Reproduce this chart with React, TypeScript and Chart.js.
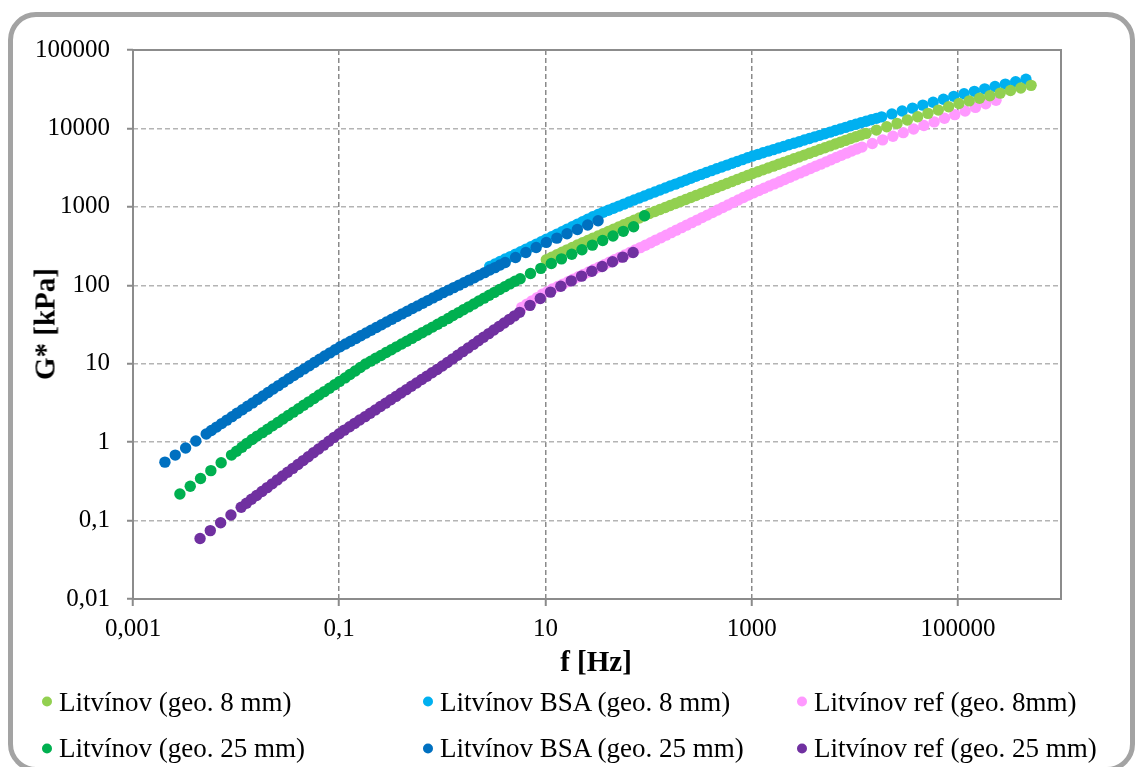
import React, { useEffect, useRef } from "react";
import { Chart, registerables } from "chart.js";

Chart.register(...registerables);

// Frequency sweeps [Hz] and complex modulus G* [kPa]; each sample has a main sweep and a second, overlapping sweep
const freqLitv8 = [10.2, 12.9, 16.2, 20.4, 25.7, 32.4, 40.7, 51.3, 64.6, 81.3, 102, 129, 162, 204, 257, 324, 407, 513, 646, 813, 1023, 1288, 1622, 2042, 2570, 3236, 4074, 5129, 6457, 8128, 10230, 12880, 16220, 20420, 25700, 32360, 40740, 51290, 64570, 81280, 102300, 128800, 162200, 204200, 257000, 323600, 407400, 512900];
const gLitv8 = [211.8, 244.9, 283.1, 325.8, 372.4, 424.6, 485.3, 553.4, 632.4, 721.1, 822.2, 924.7, 1040, 1169, 1315, 1479, 1663, 1871, 2104, 2366, 2661, 2965, 3304, 3681, 4102, 4571, 5093, 5675, 6324, 7047, 7834, 8650, 9528, 10520, 11590, 12790, 14090, 15560, 17140, 18920, 20800, 22440, 24210, 26120, 28180, 30410, 32810, 35400];
const freqLitv8Run2 = [11.5, 14.5, 18.2, 22.9, 28.8, 36.3, 45.7, 57.5, 72.4, 91.2, 115, 145, 182, 229, 288, 363, 457, 575, 724, 912, 1148, 1445, 1820, 2291, 2884, 3631, 4571, 5754, 7244, 9120, 11480];
const gLitv8Run2 = [227.8, 263.4, 303.7, 348.3, 397.7, 453.9, 518.2, 591.6, 675.3, 770.0, 871.8, 980.6, 1103, 1240, 1395, 1569, 1764, 1984, 2231, 2509, 2809, 3130, 3487, 3886, 4331, 4826, 5377, 5992, 6676, 7430, 8232];

const freqBsa8 = [2.88, 3.63, 4.57, 5.75, 7.24, 9.12, 11.5, 14.5, 18.2, 22.9, 28.8, 36.3, 45.7, 57.5, 72.4, 91.2, 115, 145, 182, 229, 288, 363, 457, 575, 724, 912, 1148, 1445, 1820, 2291, 2884, 3631, 4571, 5754, 7244, 9120, 11480, 14450, 18200, 22910, 28840, 36310, 45710, 57540, 72440, 91200, 114800, 144500, 182000, 229100, 288400, 363100, 457100];
const gBsa8 = [174, 201, 232, 268, 310, 359, 415, 481, 557, 646, 748, 853, 962, 1084, 1222, 1377, 1549, 1738, 1950, 2188, 2455, 2742, 3055, 3404, 3793, 4227, 4667, 5129, 5623, 6180, 6776, 7447, 8166, 8974, 9840, 10810, 11800, 12880, 14030, 15310, 16670, 18160, 19820, 21580, 23550, 25650, 27670, 29720, 31920, 34200, 36730, 39450, 42360];
const freqBsa8Run2 = [3.24, 4.07, 5.13, 6.46, 8.13, 10.2, 12.9, 16.2, 20.4, 25.7, 32.4, 40.7, 51.3, 64.6, 81.3, 102, 129, 162, 204, 257, 324, 407, 513, 646, 813, 1023, 1288, 1622, 2042, 2570, 3236, 4074, 5129, 6457, 8128, 10230, 12880, 16220];
const gBsa8Run2 = [186.8, 216.0, 249.7, 288.7, 333.9, 385.9, 446.7, 517.6, 599.8, 695.0, 798.8, 905.7, 1021, 1151, 1297, 1460, 1641, 1841, 2065, 2317, 2594, 2894, 3225, 3594, 4004, 4442, 4893, 5370, 5895, 6471, 7105, 7798, 8560, 9397, 10320, 11300, 12330, 13450];

const freqRef8 = [5.89, 7.41, 9.33, 11.7, 14.8, 18.6, 23.4, 29.5, 37.2, 46.8, 58.9, 74.1, 93.3, 117, 148, 186, 234, 295, 372, 468, 589, 741, 933, 1175, 1479, 1862, 2344, 2951, 3715, 4677, 5888, 7413, 9333, 11750, 14790, 18620, 23440, 29510, 37150, 46770, 58880, 74130, 93330, 117500, 147900, 186200, 234400];
const gRef8 = [52.24, 63.24, 76.74, 89.74, 103.5, 119.4, 137.7, 158.9, 183.2, 211.3, 243.8, 281.2, 324.3, 375.8, 435.5, 504.7, 584.8, 677.5, 785.2, 909.9, 1054, 1222, 1416, 1618, 1841, 2094, 2382, 2710, 3083, 3508, 3990, 4539, 5164, 5781, 6427, 7145, 7943, 8831, 9817, 10910, 12130, 13490, 15000, 16670, 18540, 20610, 22910];
const freqRef8Run2 = [6.61, 8.32, 10.5, 13.2, 16.6, 20.9, 26.3, 33.1, 41.7, 52.5, 66.1, 83.2, 105, 132, 166, 209, 263, 331, 417, 525, 661, 832, 1047, 1318, 1660, 2089, 2630, 3311, 4169, 5248, 6607, 8318, 10470];
const gRef8Run2 = [57.48, 69.66, 82.99, 96.38, 111.2, 128.2, 147.9, 170.6, 196.8, 227.0, 261.8, 302.0, 349.1, 404.6, 468.8, 543.3, 629.5, 729.8, 845.3, 979.5, 1135, 1315, 1514, 1726, 1963, 2234, 2541, 2891, 3289, 3741, 4256, 4842, 5465];

const freqLitv25 = [0.00285, 0.00359, 0.00452, 0.00569, 0.00716, 0.00902, 0.0114, 0.0143, 0.018, 0.0226, 0.0285, 0.0359, 0.0452, 0.0569, 0.0716, 0.0902, 0.114, 0.143, 0.18, 0.226, 0.285, 0.359, 0.452, 0.569, 0.716, 0.902, 1.14, 1.43, 1.8, 2.26, 2.85, 3.59, 4.52, 5.69, 7.16, 9.02, 11.4, 14.3, 18.0, 22.6, 28.5, 35.9, 45.2, 56.9, 71.6, 91.4];
const gLitv25 = [0.218, 0.274, 0.344, 0.433, 0.545, 0.684, 0.861, 1.081, 1.321, 1.614, 1.972, 2.415, 2.951, 3.606, 4.406, 5.383, 6.592, 8.072, 9.908, 11.72, 13.87, 16.41, 19.36, 22.86, 26.98, 31.84, 37.76, 44.77, 53.09, 62.95, 74.64, 88.51, 104.2, 121.3, 141.3, 164.4, 189.7, 217.3, 248.3, 284.4, 325.1, 372.4, 425.6, 487.5, 557.2, 770.9];
const freqLitv25Run2 = [0.0101, 0.0127, 0.016, 0.0202, 0.0254, 0.032, 0.0403, 0.0507, 0.0638, 0.0804, 0.101, 0.127, 0.16, 0.202, 0.254, 0.32, 0.403, 0.507, 0.638, 0.804, 1.01, 1.27, 1.6, 2.02, 2.54, 3.2, 4.03, 5.07];
const gLitv25Run2 = [0.767, 0.965, 1.195, 1.46, 1.784, 2.183, 2.67, 3.263, 3.986, 4.869, 5.957, 7.295, 8.944, 10.78, 12.75, 15.09, 17.82, 21.04, 24.83, 29.31, 34.67, 41.11, 48.75, 57.81, 68.55, 81.28, 96.05, 112.5];

const freqBsa25 = [0.00204, 0.00257, 0.00324, 0.00407, 0.00513, 0.00646, 0.00813, 0.0102, 0.0129, 0.0162, 0.0204, 0.0257, 0.0324, 0.0407, 0.0513, 0.0646, 0.0813, 0.102, 0.129, 0.162, 0.204, 0.257, 0.324, 0.407, 0.513, 0.646, 0.813, 1.02, 1.29, 1.62, 2.04, 2.57, 3.24, 4.07, 5.13, 6.46, 8.13, 10.2, 12.9, 16.2, 20.4, 25.7, 32.4];
const gBsa25 = [0.556, 0.684, 0.841, 1.035, 1.271, 1.556, 1.91, 2.339, 2.864, 3.508, 4.295, 5.26, 6.43, 7.8, 9.44, 11.43, 13.74, 16.48, 19.36, 22.75, 26.73, 31.4, 36.9, 43.2, 50.5, 59.0, 69.0, 80.5, 93.3, 108, 125, 145, 168, 195, 226, 262, 303, 352, 399, 454, 515, 586, 665];
const freqBsa25Run2 = [0.00575, 0.00724, 0.00912, 0.0115, 0.0145, 0.0182, 0.0229, 0.0288, 0.0363, 0.0457, 0.0575, 0.0724, 0.0912, 0.115, 0.145, 0.182, 0.229, 0.288, 0.363, 0.457, 0.575, 0.724, 0.912, 1.15, 1.45, 1.82, 2.29, 2.88, 3.63];
const gBsa25Run2 = [1.406, 1.724, 2.113, 2.588, 3.17, 3.882, 4.753, 5.814, 7.079, 8.582, 10.39, 12.53, 15.05, 17.86, 20.99, 24.66, 28.97, 34.04, 39.9, 46.67, 54.58, 63.83, 74.56, 86.7, 100.5, 116.4, 134.9, 156.3, 181.1];

const freqRef25 = [0.00447, 0.00562, 0.00708, 0.00891, 0.0112, 0.0141, 0.0178, 0.0224, 0.0282, 0.0355, 0.0447, 0.0562, 0.0708, 0.0891, 0.112, 0.141, 0.178, 0.224, 0.282, 0.355, 0.447, 0.562, 0.708, 0.891, 1.12, 1.41, 1.78, 2.24, 2.82, 3.55, 4.47, 5.62, 7.08, 8.91, 11.2, 14.1, 17.8, 22.4, 28.2, 35.5, 44.7, 56.2, 70.8];
const gRef25 = [0.0592, 0.0745, 0.0938, 0.118, 0.148, 0.187, 0.235, 0.294, 0.37, 0.463, 0.582, 0.731, 0.916, 1.151, 1.422, 1.734, 2.113, 2.576, 3.141, 3.828, 4.667, 5.689, 6.934, 8.453, 10.38, 12.82, 15.85, 19.59, 24.21, 29.85, 36.73, 45.19, 55.46, 67.76, 81.85, 97.27, 113.8, 130.9, 151.0, 173.8, 199.5, 228.6, 262.4];
const freqRef25Run2 = [0.0126, 0.0158, 0.02, 0.0251, 0.0316, 0.0398, 0.0501, 0.0631, 0.0794, 0.1, 0.126, 0.158, 0.2, 0.251, 0.316, 0.398, 0.501, 0.631, 0.794, 1.0, 1.26, 1.58, 2.0, 2.51, 3.16, 3.98, 5.01];
const gRef25Run2 = [0.166, 0.209, 0.263, 0.33, 0.414, 0.519, 0.652, 0.818, 1.027, 1.279, 1.57, 1.914, 2.333, 2.844, 3.467, 4.227, 5.152, 6.281, 7.656, 9.365, 11.53, 14.26, 17.62, 21.78, 26.89, 33.11, 40.74];

// Axis ticks
const xTicks = [0.001, 0.1, 10, 1000, 100000];
const yTicks = [0.01, 0.1, 1, 10, 100, 1000, 10000, 100000];

const seriesNames = [
  "Litvínov (geo. 8 mm)",
  "Litvínov BSA (geo. 8 mm)",
  "Litvínov ref (geo. 8mm)",
  "Litvínov (geo. 25 mm)",
  "Litvínov BSA (geo. 25 mm)",
  "Litvínov ref (geo. 25 mm)",
];
const seriesColors = ["#92D050", "#00B0F0", "#FF99FF", "#00B050", "#0070C0", "#7030A0"];
const seriesFreqs = [
  [...freqLitv8, ...freqLitv8Run2],
  [...freqBsa8, ...freqBsa8Run2],
  [...freqRef8, ...freqRef8Run2],
  [...freqLitv25, ...freqLitv25Run2],
  [...freqBsa25, ...freqBsa25Run2],
  [...freqRef25, ...freqRef25Run2],
];
const seriesG = [
  [...gLitv8, ...gLitv8Run2],
  [...gBsa8, ...gBsa8Run2],
  [...gRef8, ...gRef8Run2],
  [...gLitv25, ...gLitv25Run2],
  [...gBsa25, ...gBsa25Run2],
  [...gRef25, ...gRef25Run2],
];

const SERIF = "'Liberation Serif', 'Times New Roman', Times, serif";

const fmt = (v: number) => String(v).replace(".", ",");

const plotFrame = {
  id: "plotFrame",
  afterDraw(chart: any) {
    const { ctx, chartArea } = chart;
    ctx.save();
    ctx.strokeStyle = "#8c8c8c";
    ctx.lineWidth = 2;
    ctx.setLineDash([]);
    ctx.strokeRect(chartArea.left, chartArea.top, chartArea.right - chartArea.left, chartArea.bottom - chartArea.top);
    ctx.restore();
  },
};

export default function App() {
  const canvasRef = useRef<HTMLCanvasElement | null>(null);

  useEffect(() => {
    const canvas = canvasRef.current;
    if (!canvas) return;
    const datasets = seriesNames.map((name, i) => ({
      label: name,
      data: seriesFreqs[i].map((f, j) => ({ x: f, y: seriesG[i][j] })),
      backgroundColor: seriesColors[i],
      borderColor: seriesColors[i],
      borderWidth: 0,
      pointRadius: 5.7,
      pointStyle: "circle",
      showLine: false,
      order: i < 3 ? 1 : 0,
    }));
    const chart = new Chart(canvas, {
      type: "scatter",
      data: { datasets },
      plugins: [plotFrame],
      options: {
        animation: false,
        responsive: false,
        devicePixelRatio: 1,
        layout: { padding: { left: 0, top: 50, right: 74, bottom: 108 } },
        plugins: { legend: { display: false }, tooltip: { enabled: false } },
        scales: {
          x: {
            type: "logarithmic",
            position: "bottom",
            min: 0.001,
            max: 1000000,
            afterBuildTicks: (scale: any) => {
              scale.ticks = xTicks.map((v) => ({ value: v }));
            },
            afterFit: (scale: any) => {
              scale.height = 60;
            },
            ticks: {
              callback: (v: any) => fmt(Number(v)),
              color: "#000",
              font: { family: SERIF, size: 25 },
              padding: 8,
              maxRotation: 0,
              autoSkip: false,
            },
            grid: {
              color: "#8a8a8a",
              lineWidth: 1.5,
              borderDash: [5, 3],
              tickLength: 7,
              tickColor: "#8a8a8a",
              tickWidth: 2,
              tickBorderDash: [],
            },
            border: { display: false, dash: [5, 3] },
          },
          y: {
            type: "logarithmic",
            position: "left",
            min: 0.01,
            max: 100000,
            afterBuildTicks: (scale: any) => {
              scale.ticks = yTicks.map((v) => ({ value: v }));
            },
            afterFit: (scale: any) => {
              scale.width = 133;
            },
            ticks: {
              callback: (v: any) => fmt(Number(v)),
              color: "#000",
              font: { family: SERIF, size: 25 },
              padding: 17,
              autoSkip: false,
            },
            grid: {
              color: "#b4b4b4",
              lineWidth: 1.5,
              borderDash: [5, 3],
              tickLength: 6,
              tickColor: "#8a8a8a",
              tickWidth: 2,
              tickBorderDash: [],
            },
            border: { display: false, dash: [5, 3] },
          },
        },
      } as any,
    });
    return () => chart.destroy();
  }, []);

  const legendCols = [47, 428, 802];
  const legendRows = [701.5, 748];

  return (
    <div
      style={{
        position: "absolute",
        left: 0,
        top: 0,
        width: 1135,
        height: 767,
        overflow: "hidden",
        background: "#fff",
        fontFamily: SERIF,
      }}
    >
      <div
        style={{
          position: "absolute",
          left: 8,
          top: 12,
          width: 1127,
          height: 760,
          boxSizing: "border-box",
          border: "5px solid #a3a3a3",
          borderRadius: 28,
        }}
      />
      <canvas ref={canvasRef} width={1135} height={767} style={{ position: "absolute", left: 0, top: 0 }} />
      <div
        style={{
          position: "absolute",
          left: 45,
          top: 324,
          transform: "translate(-50%, -50%) rotate(-90deg)",
          fontWeight: "bold",
          fontSize: 29,
          whiteSpace: "nowrap",
          color: "#000",
        }}
      >
        G* [kPa]
      </div>
      <div
        style={{
          position: "absolute",
          left: 596,
          top: 661,
          transform: "translate(-50%, -50%)",
          fontWeight: "bold",
          fontSize: 29,
          whiteSpace: "nowrap",
          color: "#000",
        }}
      >
        f [Hz]
      </div>
      {seriesNames.map((name, i) => {
        const col = i % 3;
        const row = Math.floor(i / 3);
        return (
          <div
            key={name}
            style={{
              position: "absolute",
              left: legendCols[col] - 5,
              top: legendRows[row],
              transform: "translateY(-50%)",
              display: "flex",
              alignItems: "center",
              whiteSpace: "nowrap",
              fontSize: 27,
              color: "#000",
            }}
          >
            <span
              style={{
                display: "inline-block",
                width: 10,
                height: 10,
                borderRadius: "50%",
                background: seriesColors[i],
                marginRight: 7,
              }}
            />
            <span>{name}</span>
          </div>
        );
      })}
    </div>
  );
}
